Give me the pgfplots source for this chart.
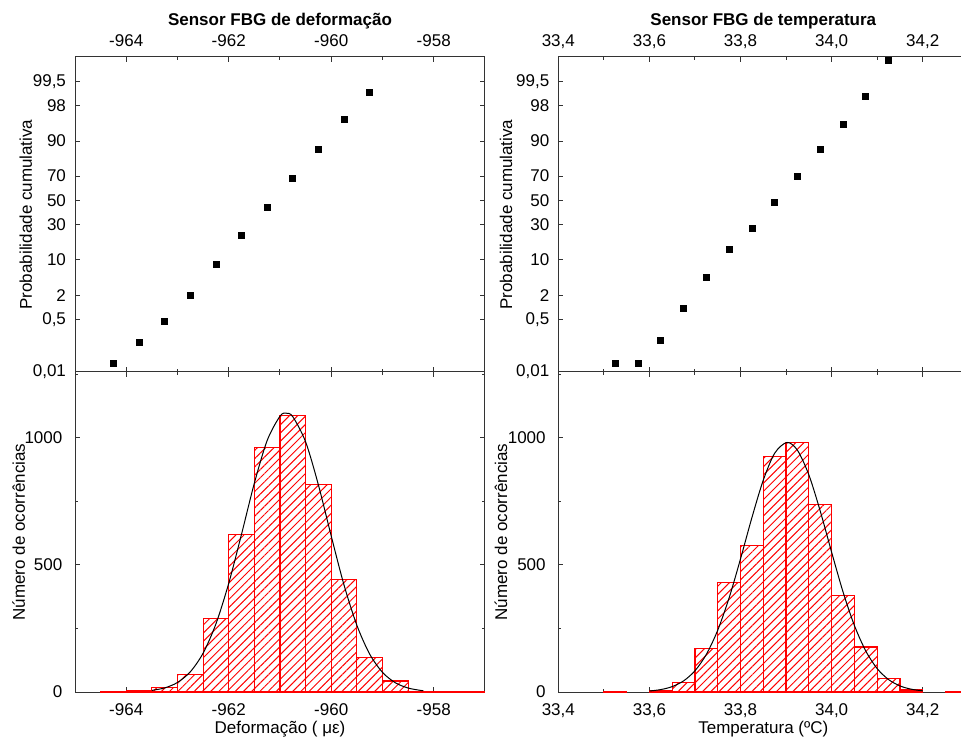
\documentclass[border=0pt]{standalone}
\usepackage{fontspec}
\setmainfont{Liberation Sans}
\usepackage{pgfplots}
\pgfplotsset{compat=1.18}
\usetikzlibrary{patterns.meta}

\newcommand{\lab}{\fontsize{8.5}{10}\selectfont}

\pgfplotsset{
  base/.style={
    scale only axis, width=205pt, anchor=south west,
    axis line style={black!80, line width=0.5pt},
    every tick/.style={black!80, line width=0.5pt},
    major tick length=2.5pt, minor tick length=1.5pt,
    tick align=inside,
    /pgf/number format/assume math mode=true,
    /pgf/number format/1000 sep={},
    tick label style={font=\lab},
  },
  toppanel/.style={
    base, height=157.5pt,
    xticklabel pos=upper,
    xticklabel style={anchor=base, yshift=5pt},
    yticklabel style={xshift=-1pt},
    ymin=-3.719, ymax=3.104,
    ytick={-3.719,-2.5758,-2.0537,-1.2816,-0.5244,0,0.5244,1.2816,2.0537,2.5758},
    yticklabels={{0,01},{0,5},2,10,30,50,70,90,98,{99,5}},
    declare function={
      pq(\q)=sqrt(-2*ln(\q));
      pa(\w)=\w-(2.515517+0.802853*\w+0.010328*\w*\w)/(1+1.432788*\w+0.189269*\w*\w+0.001308*\w*\w*\w);
      probit(\q)=ifthenelse(\q<0.5,-pa(pq(\q)),pa(pq(1-\q)));
    },
  },
  botpanel/.style={
    base, height=160pt,
    xticklabel style={anchor=base, yshift=-11.6pt},
    yticklabel style={xshift=-2.8pt},
    ymin=0, ymax=1258,
    ytick={0,500,1000}, minor ytick={250,750,1250},
  },
  hist/.style={ybar interval, draw=red, line width=0.6pt,
    pattern={Lines[angle=45,distance=2.9pt,line width=0.5pt]}, pattern color=red},
  cdf/.style={only marks, mark=square*, mark size=1.5pt, black},
  fit/.style={black, line width=0.5pt, smooth, no marks},
}

\begin{document}
\begin{tikzpicture}
% ---------------- left top: cumulative probability (strain)
\begin{axis}[toppanel, at={(37.5pt,183pt)},
  xmin=-965, xmax=-957, xtick={-964,-962,-960,-958}, minor x tick num=1]
\addplot[cdf] table[x=x, y expr={probit(\thisrow{p}/100)}] {
x p
-964.25 0.021
-963.75 0.102
-963.25 0.44
-962.75 1.94
-962.25 8.4
-961.75 22.2
-961.25 43.6
-960.75 68.0
-960.25 86.35
-959.75 96.09
-959.25 99.03
-958.75 99.91
};
\end{axis}
% ---------------- left bottom: histogram (strain)
\begin{axis}[botpanel, at={(37.5pt,23pt)},
  xmin=-965, xmax=-957, xtick={-964,-962,-960,-958}, minor x tick num=1]
\addplot[hist] table {
-964.5 1
-964.0 4
-963.5 17
-963.0 68
-962.5 289
-962.0 618
-961.5 961
-961.0 1087
-960.5 816
-960.0 442
-959.5 136
-959.0 43
-958.5 3
-958.0 0
-957.5 0
-957.0 0
};
\addplot[fit] coordinates {
(-963.5,6.3) (-963.25,16.1) (-963.0,37.5) (-962.75,79.4) (-962.5,152.8)
(-962.25,267.7) (-962.0,427.5) (-961.75,620.8) (-961.5,821.2) (-961.25,988.9)
(-961.0,1084.3) (-960.88,1096) (-960.75,1082.2) (-960.5,983.3) (-960.25,813.6)
(-960.0,612.8) (-959.75,420.1) (-959.5,262.3) (-959.25,149.1) (-959.0,77.2)
(-958.75,36.4) (-958.5,15.6) (-958.25,6.1) (-958.2,5.0)
};
\end{axis}
% ---------------- right top: cumulative probability (temperature)
\begin{axis}[toppanel, at={(279.15pt,183pt)},
  xmin=33.4, xmax=34.3, xtick={33.4,33.6,33.8,34.0,34.2}, minor x tick num=1,
  xticklabel style={/pgf/number format/.cd, fixed, fixed zerofill, precision=1, use comma}]
\addplot[cdf] table[x=x, y expr={probit(\thisrow{p}/100)}] {
x p
33.525 0.021
33.575 0.021
33.625 0.12
33.675 0.94
33.725 4.7
33.775 14.2
33.825 26.9
33.875 47.9
33.925 70.1
33.975 86.7
34.025 94.9
34.075 98.76
34.125 99.88
};
\end{axis}
% ---------------- right bottom: histogram (temperature)
\begin{axis}[botpanel, at={(279.15pt,23pt)},
  xmin=33.4, xmax=34.3, xtick={33.4,33.6,33.8,34.0,34.2}, minor x tick num=1,
  xticklabel style={/pgf/number format/.cd, fixed, fixed zerofill, precision=1, use comma}]
\addplot[hist] table {
33.50 1
33.55 0
};
\addplot[hist] table {
33.60 4
33.65 38
33.70 171
33.75 430
33.80 577
33.85 927
33.90 980
33.95 738
34.00 379
34.05 177
34.10 52
34.15 8
34.20 0
};
\addplot[hist] table {
34.25 1
34.30 0
};
\addplot[fit] coordinates {
(33.600,4.0) (33.625,9.5) (33.650,21.2) (33.675,43.7) (33.700,83.5)
(33.725,147.9) (33.750,243.1) (33.775,370.4) (33.800,523.6) (33.825,685.7)
(33.850,833.1) (33.875,938.7) (33.902,981) (33.925,950.2) (33.950,853.6)
(33.975,711.1) (34.000,549.4) (34.025,393.5) (34.050,261.4) (34.075,161.0)
(34.100,91.9) (34.125,48.8) (34.150,23.9) (34.175,10.9) (34.200,4.6)
};
\end{axis}
% ---------------- titles and labels
\node[font=\lab\bfseries, anchor=base] at (140pt,356pt) {Sensor FBG de deformação};
\node[font=\lab\bfseries, anchor=base] at (381.65pt,356pt) {Sensor FBG de temperatura};
\node[font=\lab, rotate=90, anchor=base] at (16pt,261.75pt) {Probabilidade cumulativa};
\node[font=\lab, rotate=90, anchor=base] at (12.5pt,103pt) {Número de ocorrências};
\node[font=\lab, rotate=90, anchor=base] at (256pt,261.75pt) {Probabilidade cumulativa};
\node[font=\lab, rotate=90, anchor=base] at (253.5pt,103pt) {Número de ocorrências};
\node[font=\lab, anchor=base] at (140pt,2.5pt) {Deformação ( με)};
\node[font=\lab, anchor=base] at (381.65pt,2.5pt) {Temperatura (ºC)};
\pgfresetboundingbox
\path[use as bounding box] (0,0) rectangle (480.5pt,369pt);
\end{tikzpicture}
\end{document}
